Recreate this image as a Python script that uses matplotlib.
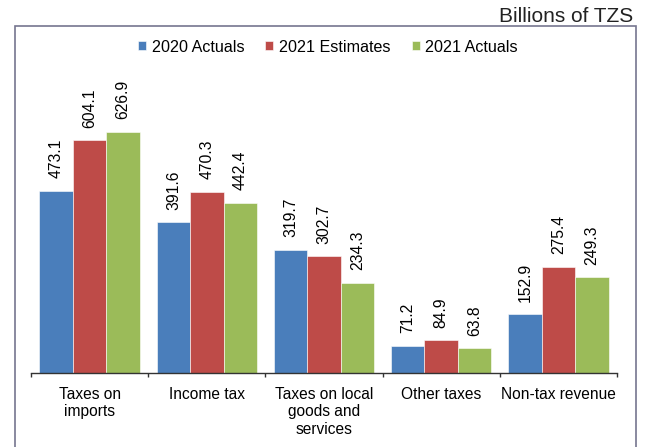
import numpy as np
import matplotlib
matplotlib.use('Agg')
from matplotlib import pyplot as plt
from matplotlib.patches import Rectangle

plt.rcParams['font.family'] = ['Liberation Sans', 'DejaVu Sans']

categories = ['Taxes on\nimports', 'Income tax', 'Taxes on local\ngoods and\nservices',
              'Other taxes', 'Non-tax revenue']
series_names = ['2020 Actuals', '2021 Estimates', '2021 Actuals']
actuals_2020 = [473.1, 391.6, 319.7, 71.2, 152.9]
estimates_2021 = [604.1, 470.3, 302.7, 84.9, 275.4]
actuals_2021 = [626.9, 442.4, 234.3, 63.8, 249.3]
colors = ['#4a7ebb', '#be4b48', '#9bbb59']

W, H = 648, 447
fig = plt.figure(figsize=(W / 100, H / 100), dpi=100)
ax = fig.add_axes([31 / W, 74 / H, 586 / W, 269.5 / H])

# outer frame around the chart (runs off the bottom of the page)
fig.patches.append(Rectangle((15 / W, -0.05), 621 / W, 1.05 - 26 / H,
                             transform=fig.transFigure, fill=False,
                             edgecolor='#76768f', linewidth=1.2))

bar_w = 0.285
x = np.arange(len(categories)) + 0.5
for k, (vals, name, c) in enumerate(zip([actuals_2020, estimates_2021, actuals_2021],
                                         series_names, colors)):
    pos = x + (k - 1) * bar_w
    bars = ax.bar(pos, vals, bar_w, color=c, edgecolor='white', linewidth=0.4, label=name)
    for b, v in zip(bars, vals):
        ax.annotate(f'{v:.1f}', (b.get_x() + b.get_width() / 2, v),
                    xytext=(0, 9), textcoords='offset points',
                    rotation=90, ha='center', va='bottom', fontsize=11.3)

ax.set_xlim(0, 5)
ax.set_ylim(0, 700)
for s in ['top', 'right', 'left']:
    ax.spines[s].set_visible(False)
ax.spines['bottom'].set_color('#333333')
ax.spines['bottom'].set_linewidth(1.0)
ax.set_yticks([])
ax.set_xticks(np.arange(6))
ax.set_xticklabels([])
ax.tick_params(axis='x', which='major', length=3, color='#333333', width=1.0)
ax.set_xticks(x, minor=True)
ax.set_xticklabels(categories, minor=True, fontsize=11.2, va='top')
ax.tick_params(axis='x', which='minor', length=0, pad=10)

fig.legend(loc='center', bbox_to_anchor=(328 / W, 1 - 47 / H), ncol=3, frameon=False,
           fontsize=11.6, handlelength=0.5, handleheight=0.5, handletextpad=0.35,
           columnspacing=1.3)

fig.text(633 / W, 1 - 21.5 / H, 'Billions of TZS', ha='right', va='baseline',
         fontsize=15, color='#222222')

fig.savefig('out.png', dpi=100)
